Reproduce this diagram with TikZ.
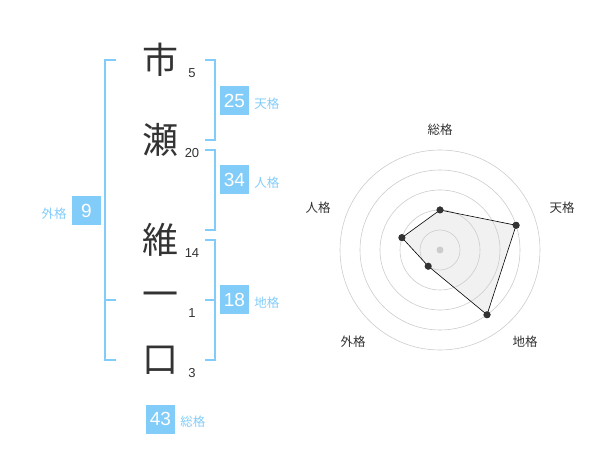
\documentclass[tikz,border=0pt]{standalone}
\usepackage{fontspec}
\setmainfont{Liberation Sans}
\newfontfamily\jp{Noto Sans CJK JP}
\usetikzlibrary{calc}
\definecolor{skyline}{RGB}{130,204,250}
\definecolor{inkgrey}{RGB}{51,51,51}
\definecolor{ringgrey}{RGB}{204,204,204}
\definecolor{areagrey}{RGB}{238,238,238}
\newcommand{\boxsize}{29pt}
\newcommand{\kanjix}{160}
\newcommand{\strokex}{192}
\tikzset{
    kanji/.style={inkgrey, inner sep=0pt, font=\jp\fontsize{36}{36}\selectfont},
    strokes/.style={inkgrey, inner sep=0pt, font=\fontsize{13}{13}\selectfont},
    score/.style={fill=skyline, text=white, inner sep=0pt, minimum size=\boxsize, font=\fontsize{19}{19}\selectfont},
    scorename/.style={skyline, inner sep=0pt, anchor=west, font=\jp\fontsize{12.5}{12.5}\selectfont},
    bracket/.style={skyline, line width=2pt},
    ring/.style={ringgrey, line width=0.6pt},
    axisname/.style={inkgrey, inner sep=0pt, font=\jp\fontsize{12.5}{12.5}\selectfont},
    point/.style={circle, fill=inkgrey, inner sep=0pt, minimum size=7pt},
    area/.style={fill=areagrey, fill opacity=0.8, draw=none},
    outline/.style={black, line width=0.6pt}
}
\begin{document}
\begin{tikzpicture}[x=1pt, y=-1pt]
      \useasboundingbox (0,0) rectangle (600,470);

      % name, one character per row
      \newcommand\letter[4]{
        \node[kanji] (#1) at (\kanjix,#2) {#3};
        \node[strokes] (#1-n) at (\strokex,#2+13) {#4};
      }
      \letter{ichi}{60}{市}{5}
      \letter{se}{140}{瀬}{20}
      \letter{i}{240}{維}{14}
      \letter{hito}{300}{一}{1}
      \letter{kuchi}{360}{口}{3}

      % brackets
      \newcommand\rbracket[2]{
        \draw[bracket] (205,#1) -| (215,#2) -- (205,#2);
      }
      \rbracket{60}{140}
      \rbracket{150}{230}
      \rbracket{240}{360}
      \draw[bracket] (205,300) -- (215,300);
      \draw[bracket] (116,60) -| (105,360) -- (116,360);
      \draw[bracket] (105,300) -- (116,300);

      % scores
      \node[score] (ten) at (234.5,100.5) {25};
      \node[scorename] at ($(ten.east)+(5,3)$) {天格};
      \node[score] (jin) at (234.5,180) {34};
      \node[scorename] at ($(jin.east)+(5,3)$) {人格};
      \node[score] (chi) at (234.5,300) {18};
      \node[scorename] at ($(chi.east)+(5,3)$) {地格};
      \node[score] (gai) at (86.5,210.5) {9};
      \node[scorename, anchor=east] at ($(gai.west)+(-5,3)$) {外格};
      \node[score] (sou) at (160.5,419) {43};
      \node[scorename] at ($(sou.east)+(5,3)$) {総格};

      % radar
      \begin{scope}[shift={(440,250)}, y=1pt]
        \coordinate (o) at (0,0);
        \path
          (90:40) node[point] (r-sou) {}
          (18:80) node[point] (r-ten) {}
          (-54:80) node[point] (r-chi) {}
          (-126:20) node[point] (r-gai) {}
          (162:40) node[point] (r-jin) {};
        \fill[area] (r-sou.center) -- (r-ten.center) -- (r-chi.center) -- (r-gai.center) -- (r-jin.center) -- cycle;
        \foreach \r in {20,40,...,100}
          \draw[ring] (o) circle[radius=\r];
        \fill[ringgrey] (o) circle[radius=3.5];
        \draw[outline] (r-sou.center) -- (r-ten.center) -- (r-chi.center) -- (r-gai.center) -- (r-jin.center) -- cycle;
        \foreach \p in {sou,ten,chi,gai,jin}
          \node[point] at (r-\p) {};
        \node[axisname] at (0,120) {総格};
        \node[axisname] at (122,42) {天格};
        \node[axisname] at (-122,42) {人格};
        \node[axisname] at (-87,-92) {外格};
        \node[axisname] at (85,-92) {地格};
      \end{scope}
    \end{tikzpicture}
\end{document}
